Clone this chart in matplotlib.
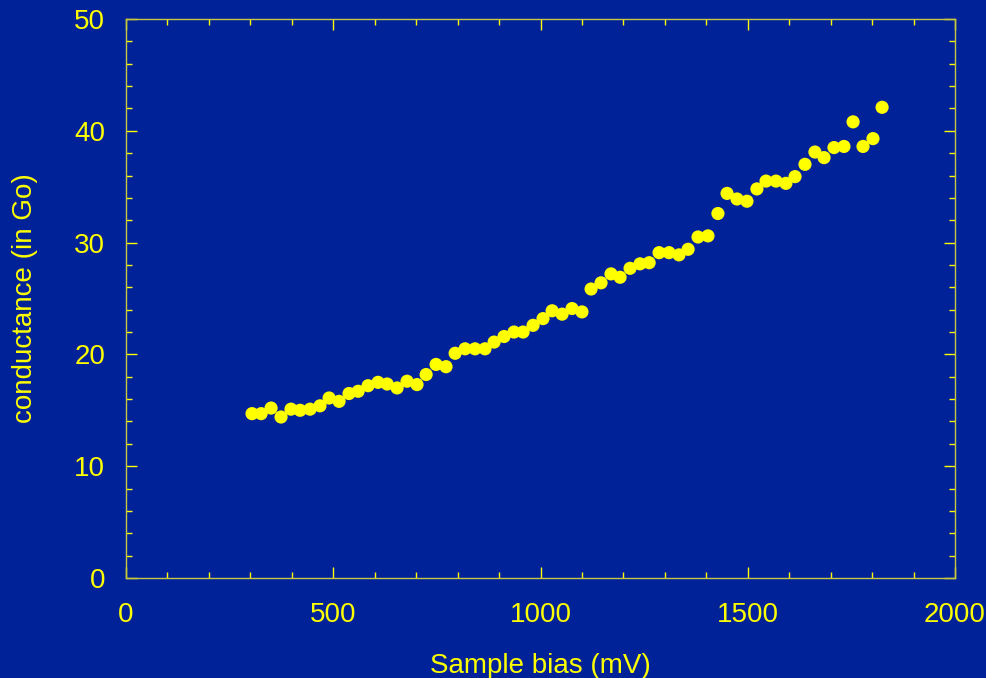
import matplotlib
matplotlib.use("Agg")
import matplotlib.pyplot as plt
from matplotlib.ticker import MultipleLocator

# data: sample bias (mV) vs conductance (in Go)
bias = [304, 326, 350, 374, 398, 420, 444, 468, 490, 514,
        538, 560, 584, 608, 630, 654, 678, 702, 724, 748,
        772, 794, 818, 842, 866, 888, 912, 936, 958, 982,
        1006, 1028, 1052, 1076, 1100, 1122, 1146, 1170, 1192, 1216,
        1240, 1262, 1286, 1310, 1334, 1356, 1380, 1404, 1428, 1450,
        1474, 1498, 1522, 1544, 1568, 1592, 1614, 1638, 1662, 1684,
        1708, 1732, 1754, 1778, 1802, 1824]
conductance = [14.7, 14.7, 15.2, 14.4, 15.1, 15.0, 15.1, 15.4, 16.1, 15.8,
               16.5, 16.7, 17.2, 17.5, 17.35, 17.0, 17.6, 17.3, 18.2, 19.1,
               18.9, 20.1, 20.5, 20.5, 20.5, 21.1, 21.6, 22.0, 22.0, 22.6,
               23.2, 23.9, 23.6, 24.1, 23.8, 25.85, 26.4, 27.2, 26.9, 27.7,
               28.1, 28.2, 29.1, 29.1, 28.9, 29.4, 30.5, 30.6, 32.6, 34.4,
               33.9, 33.7, 34.8, 35.5, 35.5, 35.3, 35.9, 37.0, 38.1, 37.6,
               38.5, 38.6, 40.8, 38.6, 39.3, 42.1]

bg = '#002299'
fg = '#ffff00'

plt.rcParams['font.family'] = ['Liberation Sans', 'DejaVu Sans']

fig = plt.figure(figsize=(9.86, 6.78), dpi=100, facecolor=bg)
ax = fig.add_axes([0.1278, 0.1475, 0.8408, 0.8245], facecolor=bg)

ax.scatter(bias, conductance, s=90, color=fg, edgecolors='none', zorder=3)

ax.set_xlim(0, 2000)
ax.set_ylim(0, 50)
ax.xaxis.set_major_locator(MultipleLocator(500))
ax.xaxis.set_minor_locator(MultipleLocator(100))
ax.yaxis.set_major_locator(MultipleLocator(10))
ax.yaxis.set_minor_locator(MultipleLocator(2))

ax.tick_params(which='both', direction='in', top=True, right=True, color=fg, width=1)
ax.tick_params(which='major', length=8)
ax.tick_params(which='minor', length=4)
ax.tick_params(axis='x', which='major', labelsize=20, labelcolor=fg, pad=17)
ax.tick_params(axis='y', which='major', labelsize=20, labelcolor=fg, pad=15)

for s in ax.spines.values():
    s.set_color('#c8c840')
    s.set_linewidth(1)

ax.set_xlabel('Sample bias (mV)', fontsize=20, color=fg, labelpad=18)
ax.set_ylabel('conductance (in Go)', fontsize=20, color=fg, labelpad=26)

fig.savefig('out.png', dpi=100, facecolor=bg)
